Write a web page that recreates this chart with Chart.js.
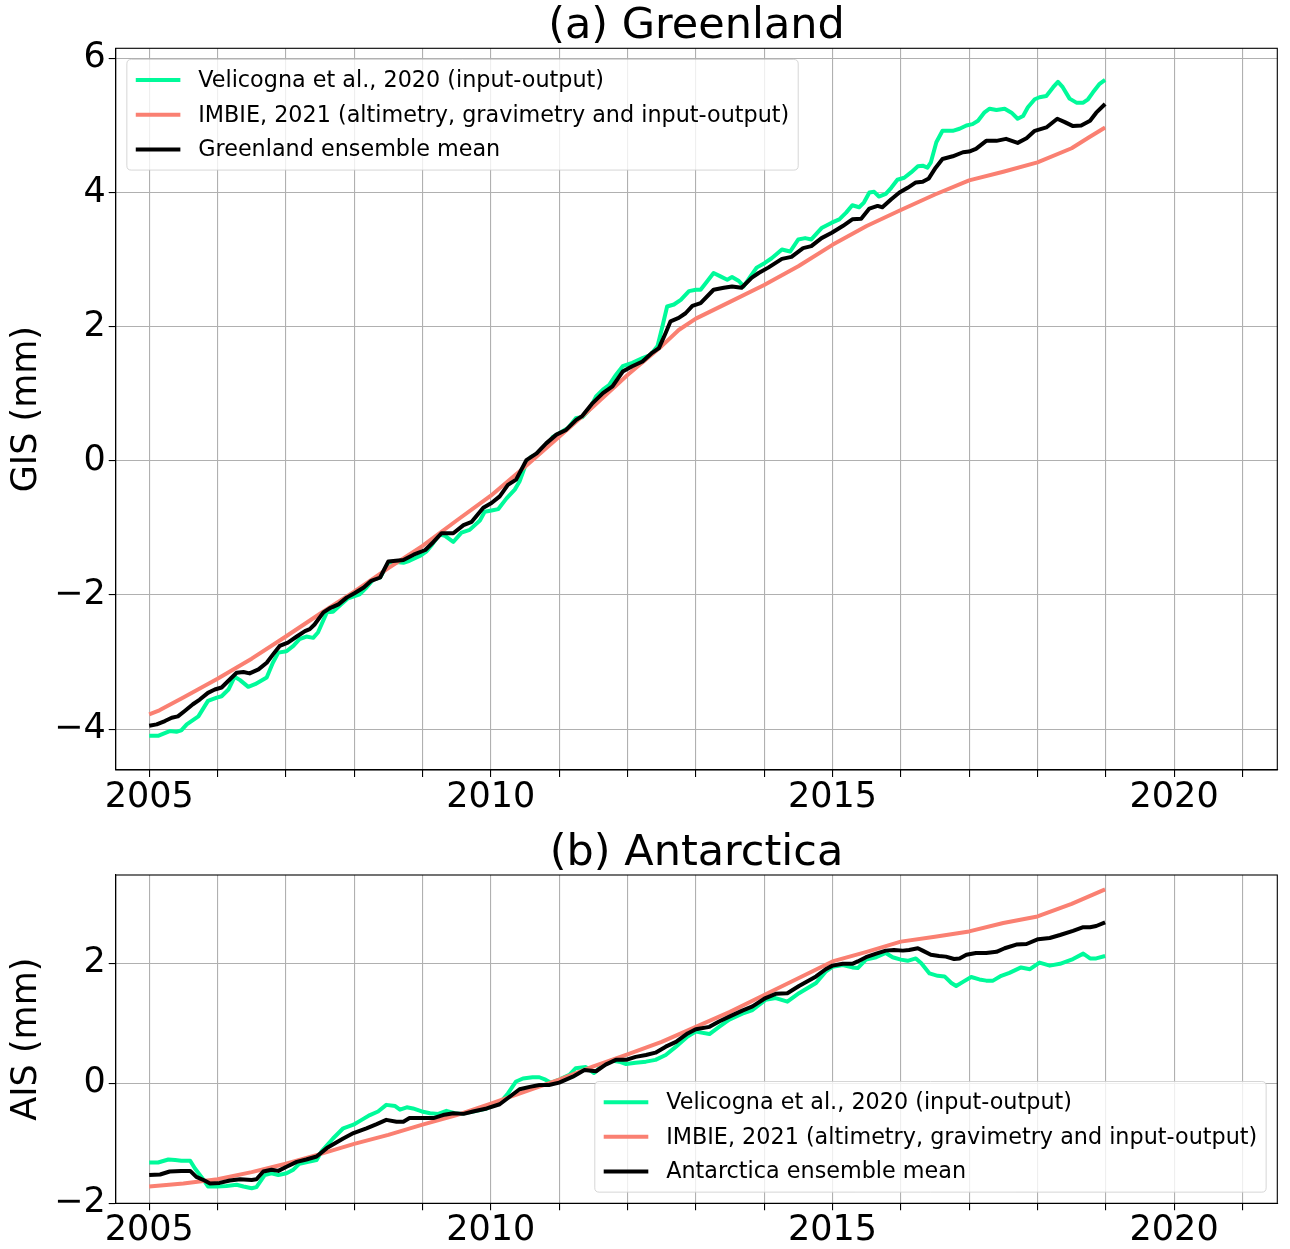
<!DOCTYPE html>
<html>
<head>
<meta charset="utf-8">
<script src="https://cdn.jsdelivr.net/npm/chart.js@4/dist/chart.umd.min.js"></script>
<style>
  html, body { margin: 0; padding: 0; background: #fff; }
  .box { position: absolute; left: 0; width: 1290px; }
  #b1 { top: 0; height: 820px; }
  #b2 { top: 822px; height: 427px; }
</style>
</head>
<body>
<div class="box" id="b1"><canvas id="c1"></canvas></div>
<div class="box" id="b2"><canvas id="c2"></canvas></div>
<script>
// ---------- DATA (decimal year, sea-level contribution in mm) ----------
const gisVelicogna = [
[2005.00,-4.10],[2005.13,-4.10],[2005.30,-4.03],[2005.40,-4.04],[2005.47,-4.02],[2005.55,-3.93],[2005.72,-3.81],
[2005.86,-3.58],[2005.99,-3.53],[2006.06,-3.51],[2006.16,-3.41],[2006.25,-3.22],[2006.33,-3.27],[2006.45,-3.37],
[2006.55,-3.33],[2006.72,-3.23],[2006.81,-3.01],[2006.89,-2.86],[2007.01,-2.84],[2007.11,-2.76],[2007.20,-2.66],
[2007.30,-2.62],[2007.40,-2.64],[2007.47,-2.56],[2007.60,-2.26],[2007.69,-2.25],[2007.81,-2.14],[2007.91,-2.05],
[2008.08,-1.99],[2008.18,-1.89],[2008.28,-1.77],[2008.38,-1.74],[2008.50,-1.52],[2008.62,-1.51],[2008.72,-1.52],
[2008.81,-1.49],[2008.96,-1.42],[2009.06,-1.35],[2009.14,-1.25],[2009.25,-1.10],[2009.33,-1.12],[2009.45,-1.21],
[2009.57,-1.07],[2009.69,-1.03],[2009.84,-0.89],[2009.91,-0.76],[2010.01,-0.74],[2010.11,-0.72],[2010.23,-0.56],
[2010.35,-0.43],[2010.42,-0.31],[2010.52,-0.03],[2010.59,0.06],[2010.71,0.11],[2010.81,0.21],[2010.91,0.36],
[2011.00,0.41],[2011.13,0.49],[2011.25,0.64],[2011.34,0.65],[2011.44,0.76],[2011.54,0.96],[2011.64,1.06],
[2011.73,1.13],[2011.83,1.28],[2011.93,1.41],[2012.07,1.46],[2012.22,1.53],[2012.34,1.58],[2012.44,1.71],
[2012.51,2.00],[2012.58,2.30],[2012.68,2.33],[2012.78,2.40],[2012.90,2.53],[2013.00,2.55],[2013.07,2.55],
[2013.17,2.68],[2013.26,2.80],[2013.36,2.75],[2013.46,2.70],[2013.53,2.74],[2013.63,2.68],[2013.70,2.60],
[2013.80,2.75],[2013.89,2.88],[2014.01,2.95],[2014.11,3.02],[2014.26,3.15],[2014.38,3.12],[2014.50,3.30],
[2014.60,3.32],[2014.69,3.30],[2014.84,3.47],[2014.99,3.55],[2015.10,3.60],[2015.20,3.70],[2015.29,3.81],
[2015.39,3.78],[2015.46,3.85],[2015.54,4.00],[2015.61,4.01],[2015.68,3.94],[2015.78,3.98],[2015.86,4.07],
[2015.95,4.19],[2016.05,4.22],[2016.15,4.30],[2016.25,4.39],[2016.32,4.40],[2016.39,4.37],[2016.44,4.45],
[2016.52,4.75],[2016.61,4.92],[2016.76,4.92],[2016.86,4.95],[2016.96,5.00],[2017.05,5.02],[2017.13,5.07],
[2017.22,5.19],[2017.30,5.25],[2017.40,5.23],[2017.52,5.25],[2017.62,5.19],[2017.71,5.10],[2017.79,5.14],
[2017.86,5.27],[2017.96,5.39],[2018.03,5.42],[2018.13,5.44],[2018.23,5.57],[2018.30,5.65],[2018.37,5.57],
[2018.47,5.40],[2018.57,5.34],[2018.67,5.34],[2018.74,5.39],[2018.81,5.49],[2018.91,5.62],[2018.99,5.68]
];
const gisImbie = [
[2005.00,-3.78],[2005.15,-3.72],[2005.50,-3.53],[2006.00,-3.25],[2006.50,-2.95],[2007.00,-2.62],[2007.50,-2.28],
[2008.00,-1.95],[2008.50,-1.60],[2009.00,-1.27],[2009.50,-0.89],[2010.00,-0.52],[2010.50,-0.09],[2011.00,0.36],
[2011.50,0.81],[2012.00,1.28],[2012.50,1.71],[2012.75,1.95],[2013.00,2.12],[2013.50,2.37],[2014.00,2.62],
[2014.50,2.90],[2015.00,3.22],[2015.50,3.50],[2016.00,3.74],[2016.50,3.97],[2017.00,4.18],[2017.50,4.31],
[2018.00,4.45],[2018.50,4.66],[2018.75,4.82],[2018.99,4.97]
];
const gisMean = [
[2005.00,-3.95],[2005.11,-3.93],[2005.23,-3.88],[2005.33,-3.83],[2005.42,-3.81],[2005.52,-3.73],[2005.64,-3.63],
[2005.74,-3.56],[2005.86,-3.46],[2005.96,-3.41],[2006.06,-3.38],[2006.16,-3.28],[2006.28,-3.16],[2006.38,-3.15],
[2006.47,-3.17],[2006.60,-3.11],[2006.72,-3.01],[2006.81,-2.89],[2006.91,-2.76],[2007.03,-2.71],[2007.16,-2.62],
[2007.28,-2.54],[2007.35,-2.51],[2007.42,-2.44],[2007.55,-2.26],[2007.64,-2.20],[2007.77,-2.14],[2007.89,-2.04],
[2008.01,-1.97],[2008.14,-1.89],[2008.25,-1.79],[2008.38,-1.74],[2008.50,-1.50],[2008.72,-1.48],[2008.87,-1.40],
[2009.04,-1.33],[2009.16,-1.21],[2009.28,-1.08],[2009.45,-1.08],[2009.60,-0.96],[2009.72,-0.91],[2009.89,-0.70],
[2010.01,-0.63],[2010.13,-0.53],[2010.25,-0.36],[2010.37,-0.28],[2010.52,0.01],[2010.67,0.11],[2010.81,0.26],
[2010.96,0.39],[2011.10,0.46],[2011.25,0.61],[2011.34,0.67],[2011.49,0.86],[2011.64,1.01],[2011.78,1.11],
[2011.93,1.33],[2012.07,1.41],[2012.22,1.48],[2012.36,1.61],[2012.46,1.68],[2012.56,1.91],[2012.63,2.08],
[2012.75,2.13],[2012.85,2.20],[2012.95,2.31],[2013.07,2.35],[2013.26,2.55],[2013.41,2.58],[2013.53,2.60],
[2013.67,2.58],[2013.82,2.73],[2013.92,2.80],[2014.06,2.88],[2014.26,3.01],[2014.40,3.04],[2014.57,3.17],
[2014.69,3.20],[2014.84,3.32],[2014.99,3.40],[2015.15,3.50],[2015.29,3.60],[2015.42,3.61],[2015.54,3.76],
[2015.66,3.80],[2015.73,3.78],[2015.86,3.90],[2015.98,4.00],[2016.10,4.07],[2016.22,4.15],[2016.32,4.16],
[2016.41,4.21],[2016.51,4.37],[2016.61,4.50],[2016.76,4.54],[2016.91,4.60],[2017.00,4.61],[2017.10,4.65],
[2017.25,4.77],[2017.40,4.77],[2017.54,4.80],[2017.71,4.74],[2017.84,4.81],[2017.96,4.92],[2018.13,4.97],
[2018.29,5.10],[2018.40,5.05],[2018.52,4.99],[2018.64,5.00],[2018.77,5.07],[2018.86,5.19],[2018.99,5.32]
];
const aisVelicogna = [
[2005.00,-1.32],[2005.13,-1.32],[2005.28,-1.27],[2005.38,-1.28],[2005.47,-1.29],[2005.60,-1.29],[2005.67,-1.42],
[2005.77,-1.57],[2005.86,-1.72],[2005.99,-1.72],[2006.13,-1.71],[2006.28,-1.69],[2006.38,-1.72],[2006.50,-1.75],
[2006.57,-1.73],[2006.69,-1.53],[2006.79,-1.50],[2006.89,-1.53],[2007.01,-1.50],[2007.11,-1.44],[2007.20,-1.34],
[2007.33,-1.31],[2007.45,-1.28],[2007.52,-1.14],[2007.69,-0.92],[2007.84,-0.75],[2007.99,-0.69],[2008.11,-0.61],
[2008.23,-0.53],[2008.35,-0.47],[2008.47,-0.36],[2008.60,-0.38],[2008.67,-0.44],[2008.77,-0.40],[2008.86,-0.42],
[2008.99,-0.47],[2009.11,-0.50],[2009.23,-0.51],[2009.35,-0.46],[2009.47,-0.50],[2009.57,-0.51],[2009.74,-0.47],
[2009.94,-0.42],[2010.13,-0.33],[2010.25,-0.17],[2010.37,0.03],[2010.47,0.08],[2010.61,0.10],[2010.71,0.10],
[2010.80,0.06],[2010.88,0.01],[2011.00,0.06],[2011.15,0.14],[2011.24,0.25],[2011.39,0.27],[2011.51,0.17],
[2011.63,0.29],[2011.76,0.38],[2011.88,0.36],[2011.98,0.32],[2012.12,0.34],[2012.27,0.36],[2012.41,0.39],
[2012.56,0.47],[2012.71,0.61],[2012.88,0.78],[2013.00,0.86],[2013.20,0.82],[2013.34,0.94],[2013.49,1.06],
[2013.68,1.16],[2013.83,1.22],[2014.02,1.39],[2014.17,1.42],[2014.34,1.36],[2014.51,1.50],[2014.76,1.67],
[2014.90,1.86],[2015.00,1.94],[2015.15,1.97],[2015.29,1.93],[2015.37,1.92],[2015.49,2.06],[2015.64,2.10],
[2015.78,2.17],[2015.88,2.10],[2016.00,2.06],[2016.10,2.04],[2016.22,2.08],[2016.30,2.00],[2016.42,1.83],
[2016.54,1.79],[2016.64,1.78],[2016.74,1.67],[2016.81,1.62],[2016.91,1.69],[2017.03,1.77],[2017.15,1.73],
[2017.25,1.71],[2017.35,1.71],[2017.47,1.79],[2017.59,1.84],[2017.76,1.93],[2017.89,1.90],[2018.03,2.01],
[2018.18,1.96],[2018.33,1.99],[2018.52,2.07],[2018.67,2.16],[2018.77,2.08],[2018.86,2.08],[2018.99,2.12]
];
const aisImbie = [
[2005.00,-1.72],[2005.50,-1.67],[2006.00,-1.60],[2006.50,-1.48],[2007.00,-1.34],[2007.50,-1.18],[2008.00,-1.01],
[2008.50,-0.86],[2009.00,-0.69],[2009.50,-0.53],[2010.00,-0.34],[2010.50,-0.14],[2011.00,0.06],[2011.50,0.28],
[2012.00,0.48],[2012.50,0.69],[2013.00,0.94],[2013.50,1.19],[2014.00,1.47],[2014.50,1.75],[2015.00,2.03],
[2015.50,2.19],[2016.00,2.36],[2016.50,2.44],[2017.00,2.53],[2017.50,2.67],[2018.00,2.78],[2018.50,2.99],
[2018.99,3.23]
];
const aisMean = [
[2005.00,-1.53],[2005.16,-1.52],[2005.30,-1.47],[2005.47,-1.46],[2005.60,-1.46],[2005.69,-1.56],[2005.81,-1.62],
[2005.89,-1.67],[2006.03,-1.66],[2006.18,-1.62],[2006.33,-1.60],[2006.50,-1.61],[2006.57,-1.60],[2006.67,-1.47],
[2006.79,-1.44],[2006.89,-1.46],[2007.01,-1.39],[2007.16,-1.31],[2007.30,-1.27],[2007.45,-1.22],[2007.60,-1.08],
[2007.84,-0.92],[2007.99,-0.83],[2008.18,-0.75],[2008.33,-0.68],[2008.47,-0.61],[2008.62,-0.64],[2008.72,-0.64],
[2008.81,-0.58],[2009.01,-0.58],[2009.16,-0.58],[2009.30,-0.53],[2009.45,-0.50],[2009.60,-0.51],[2009.74,-0.47],
[2009.94,-0.42],[2010.13,-0.35],[2010.28,-0.22],[2010.42,-0.10],[2010.57,-0.06],[2010.71,-0.03],[2010.85,-0.03],
[2011.00,0.01],[2011.20,0.11],[2011.37,0.22],[2011.54,0.20],[2011.68,0.31],[2011.83,0.39],[2011.98,0.39],
[2012.12,0.44],[2012.27,0.47],[2012.41,0.51],[2012.56,0.61],[2012.71,0.69],[2012.88,0.83],[2013.00,0.90],
[2013.20,0.94],[2013.34,1.03],[2013.49,1.11],[2013.68,1.21],[2013.83,1.28],[2014.02,1.42],[2014.17,1.49],
[2014.34,1.50],[2014.51,1.62],[2014.76,1.78],[2014.90,1.90],[2015.00,1.96],[2015.15,1.99],[2015.29,1.99],
[2015.37,2.03],[2015.49,2.10],[2015.64,2.16],[2015.78,2.21],[2015.90,2.22],[2016.03,2.21],[2016.12,2.22],
[2016.25,2.25],[2016.32,2.21],[2016.44,2.14],[2016.56,2.12],[2016.66,2.11],[2016.78,2.07],[2016.86,2.08],
[2016.96,2.14],[2017.10,2.17],[2017.25,2.17],[2017.40,2.19],[2017.52,2.25],[2017.69,2.31],[2017.84,2.32],
[2018.01,2.40],[2018.18,2.42],[2018.33,2.47],[2018.52,2.54],[2018.67,2.60],[2018.77,2.60],[2018.86,2.62],
[2018.99,2.68]
];
const xTickYears = [2005,2006,2007,2008,2009,2010,2011,2012,2013,2014,2015,2016,2017,2018,2019,2020,2021];
const xLabelYears = [2005,2010,2015,2020];
const gisYTicks = [-4,-2,0,2,4,6];
const aisYTicks = [-2,0,2];
const labelVel = 'Velicogna et al., 2020 (input-output)';
const labelImbie = 'IMBIE, 2021 (altimetry, gravimetry and input-output)';
const labelGisMean = 'Greenland ensemble mean';
const labelAisMean = 'Antarctica ensemble mean';
const titleGis = '(a) Greenland';
const titleAis = '(b) Antarctica';
const yTitleGis = 'GIS (mm)';
const yTitleAis = 'AIS (mm)';

// ---------- STYLE ----------
const FONT = 'DejaVu Sans';
const GREEN = '#00FA9A', SALMON = '#FA8072', BLACK = '#000000';
const GRID = '#b0b0b0';

function pts(arr){ return arr.map(p => ({x:p[0], y:p[1]})); }
function fmt(v){ return v < 0 ? '\u2212' + Math.abs(v) : String(v); }

const framePlugin = {
  id: 'frame',
  afterDatasetsDraw(chart) {
    const a = chart.chartArea, ctx = chart.ctx;
    ctx.save();
    ctx.strokeStyle = '#000'; ctx.lineWidth = 1.1;
    ctx.strokeRect(a.left, a.top, a.right - a.left, a.bottom - a.top);
    ctx.restore();
  }
};

const boxLegendPlugin = {
  id: 'boxLegend',
  afterDraw(chart, args, opts) {
    if (!opts || !opts.items) return;
    const ctx = chart.ctx, a = chart.chartArea;
    const fs = 22.3, pad = 0.4*fs, hl = 2.0*fs, hp = 0.8*fs, axpad = 0.5*fs;
    const rowH = 23.5, sp = 0.5*fs;
    ctx.save();
    ctx.font = fs + 'px "' + FONT + '"';
    let tw = 0;
    opts.items.forEach(it => { tw = Math.max(tw, ctx.measureText(it.label).width); });
    const w = pad + hl + hp + tw + pad;
    const h = 2*pad + opts.items.length*rowH + (opts.items.length-1)*sp;
    let x0, y0;
    if (opts.loc === 'lower right') { x0 = a.right - axpad - w; y0 = a.bottom - axpad - h; }
    else { x0 = a.left + axpad; y0 = a.top + axpad; }
    const r = 4.4;
    ctx.beginPath();
    ctx.moveTo(x0 + r, y0);
    ctx.lineTo(x0 + w - r, y0); ctx.quadraticCurveTo(x0 + w, y0, x0 + w, y0 + r);
    ctx.lineTo(x0 + w, y0 + h - r); ctx.quadraticCurveTo(x0 + w, y0 + h, x0 + w - r, y0 + h);
    ctx.lineTo(x0 + r, y0 + h); ctx.quadraticCurveTo(x0, y0 + h, x0, y0 + h - r);
    ctx.lineTo(x0, y0 + r); ctx.quadraticCurveTo(x0, y0, x0 + r, y0);
    ctx.closePath();
    ctx.fillStyle = 'rgba(255,255,255,0.8)'; ctx.fill();
    ctx.strokeStyle = 'rgba(204,204,204,0.8)'; ctx.lineWidth = 1; ctx.stroke();
    opts.items.forEach((it, i) => {
      const cy = y0 + pad + rowH/2 + i*(rowH + sp);
      ctx.beginPath();
      ctx.moveTo(x0 + pad, cy); ctx.lineTo(x0 + pad + hl, cy);
      ctx.strokeStyle = it.color; ctx.lineWidth = 4; ctx.lineCap = 'butt'; ctx.stroke();
      ctx.fillStyle = '#000'; ctx.textBaseline = 'middle'; ctx.textAlign = 'left';
      ctx.fillText(it.label, x0 + pad + hl + hp, cy + 1);
    });
    ctx.restore();
  }
};

function makeChart(canvasId, cfg) {
  const ds = (label, data, color, order) => ({
    label, data: pts(data), borderColor: color, backgroundColor: color,
    borderWidth: 4, pointRadius: 0, tension: 0, fill: false, order,
    borderJoinStyle: 'round', borderCapStyle: 'butt'
  });
  return new Chart(document.getElementById(canvasId), {
    type: 'line',
    data: { datasets: [
      ds(labelVel, cfg.vel, GREEN, 3),
      ds(labelImbie, cfg.imbie, SALMON, 2),
      ds(cfg.meanLabel, cfg.mean, BLACK, 1)
    ]},
    plugins: [framePlugin, boxLegendPlugin],
    options: {
      responsive: true, maintainAspectRatio: false, animation: false,
      devicePixelRatio: 1,
      layout: { padding: { left: 0, right: 12.7, top: 0, bottom: 0 } },
      plugins: {
        legend: { display: false },
        tooltip: { enabled: false },
        title: { display: true, text: cfg.title, color: '#000', fullSize: false,
                 font: { family: FONT, size: 43, weight: 'normal', lineHeight: 1 },
                 padding: cfg.titlePad },
        boxLegend: { loc: cfg.legendLoc, items: [
          { label: labelVel, color: GREEN },
          { label: labelImbie, color: SALMON },
          { label: cfg.meanLabel, color: BLACK } ] }
      },
      scales: {
        x: {
          type: 'linear', min: 2004.51, max: 2021.51, bounds: 'data',
          afterBuildTicks: s => { s.ticks = xTickYears.map(v => ({ value: v })); },
          afterFit: s => { s.height = cfg.xAxisH; },
          ticks: { autoSkip: false, maxRotation: 0, minRotation: 0, padding: 3, color: '#000',
                   font: { family: FONT, size: 35, lineHeight: 1 },
                   callback: v => xLabelYears.includes(v) ? String(v) : '' },
          grid: { color: GRID, lineWidth: 1.1, drawTicks: true, tickLength: 7,
                  tickColor: '#000', tickWidth: 1.1 },
          border: { display: true, color: '#000', width: 1.1 }
        },
        y: {
          type: 'linear', min: cfg.yMin, max: cfg.yMax, bounds: 'data',
          afterBuildTicks: s => { s.ticks = cfg.yTicks.map(v => ({ value: v })); },
          afterFit: s => { s.width = 115.7; },
          ticks: { padding: 3, color: '#000', font: { family: FONT, size: 35, lineHeight: 1 },
                   callback: v => fmt(v) },
          grid: { color: GRID, lineWidth: 1.1, drawTicks: true, tickLength: 7,
                  tickColor: '#000', tickWidth: 1.1 },
          border: { display: true, color: '#000', width: 1.1 },
          title: { display: true, text: cfg.yTitle, color: '#000',
                   font: { family: FONT, size: 35, lineHeight: 1.2 },
                   padding: { top: 6, bottom: 0 } }
        }
      }
    }
  });
}

makeChart('c1', {
  vel: gisVelicogna, imbie: gisImbie, mean: gisMean, meanLabel: labelGisMean,
  title: titleGis, titlePad: { top: 5, bottom: 0.3 }, legendLoc: 'upper left',
  yMin: -4.61, yMax: 6.15, yTicks: gisYTicks, yTitle: yTitleGis, xAxisH: 50
});
makeChart('c2', {
  vel: aisVelicogna, imbie: aisImbie, mean: aisMean, meanLabel: labelAisMean,
  title: titleAis, titlePad: { top: 10, bottom: 0 }, legendLoc: 'lower right',
  yMin: -2.0, yMax: 3.47, yTicks: aisYTicks, yTitle: yTitleAis, xAxisH: 45.7
});
</script>
</body>
</html>
